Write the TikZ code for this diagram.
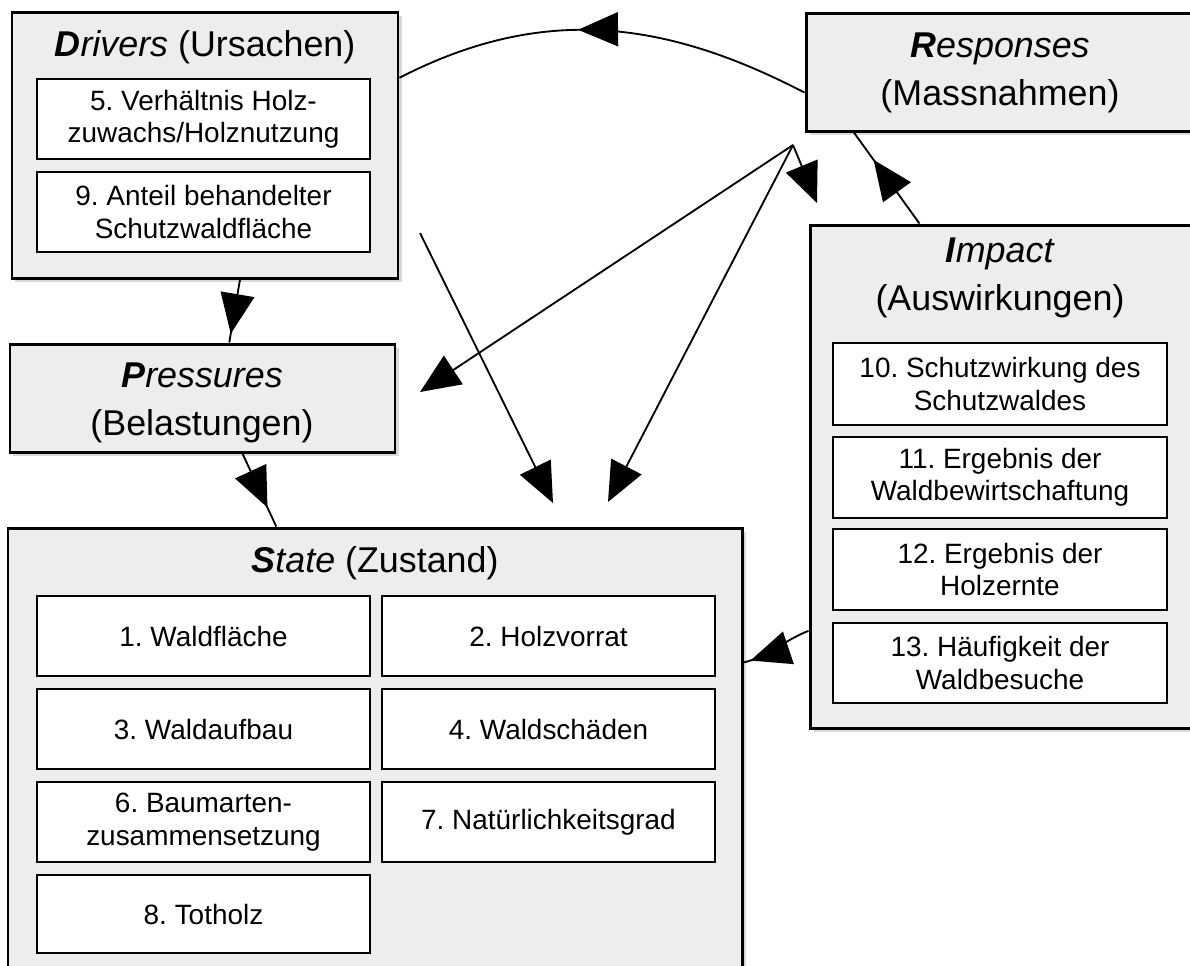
\documentclass[tikz,border=0pt]{standalone}
\usepackage{fontspec}
\setmainfont{Liberation Sans}
\usetikzlibrary{arrows.meta,decorations.markings,shadows,calc}
\definecolor{boxgray}{RGB}{237,237,237}
\newcommand\myheadfont{\fontsize{20.4}{27.2}\selectfont}
\newcommand\myitemfont{\fontsize{15.9}{18.4}\selectfont}
\newcommand\mybox[7]{\node[#1, minimum width={(#5-#3)*0.02cm}, minimum height={(#6-#4)*0.02cm}] (#2) at ({(#3+#5)/2},{(#4+#6)/2}) {#7};}
\tikzset{
 outerbox/.style={draw=black, line width=1.7pt, fill=boxgray, drop shadow={shadow xshift=0.07cm, shadow yshift=-0.07cm, opacity=0.3}, inner sep=0pt, align=center, font=\myheadfont},
 innerbox/.style={draw=black, line width=1.6pt, fill=white, inner sep=0pt, align=center, font=\myitemfont},
 heading/.style={inner sep=0pt, align=center, font=\myheadfont},
 conn/.style={draw=black, line width=1.05pt},
 tipend/.style={-{Triangle[length=0.8cm,width=0.68cm]}},
 tipmid/.style={decoration={markings, mark=at position #1 with {\arrow{Triangle[length=0.8cm,width=0.68cm]}}}, postaction={decorate}},
}
\begin{document}
\frenchspacing
\begin{tikzpicture}[x=0.02cm,y=-0.02cm]
\useasboundingbox (0,0) rectangle (1190,965);
\clip (0,0) rectangle (1190,965);
% Drivers
\mybox{outerbox}{drv}{12}{12}{398}{278}{}
\node[heading] (drvT) at (205,47) {\textbf{\textit{D}}\textit{rivers} (Ursachen)};
\mybox{innerbox}{d5}{37}{79}{370}{159}{5. Verhältnis Holz-\\zuwachs/Holznutzung}
\mybox{innerbox}{d9}{37}{172}{370}{252}{9. Anteil behandelter\\Schutzwaldfläche}
% Responses
\mybox{outerbox}{resp}{806}{13}{1195}{131}{}
\node[heading] (respT) at (1000,73) {\textbf{\textit{R}}\textit{esponses}\\(Massnahmen)};
% Pressures
\mybox{outerbox}{press}{10}{344}{395}{452}{}
\node[heading] (pressT) at (202,403) {\textbf{\textit{P}}\textit{ressures}\\(Belastungen)};
% Impact
\mybox{outerbox}{imp}{810}{225}{1195}{728}{}
\node[heading] (impT) at (1000,278) {\textbf{\textit{I}}\textit{mpact}\\(Auswirkungen)};
\mybox{innerbox}{i10}{833}{343}{1167}{425}{10. Schutzwirkung des\\Schutzwaldes}
\mybox{innerbox}{i11}{833}{437}{1167}{518}{11. Ergebnis der\\Waldbewirtschaftung}
\mybox{innerbox}{i12}{833}{529}{1167}{610}{12. Ergebnis der\\Holzernte}
\mybox{innerbox}{i13}{833}{623}{1167}{703}{13. Häufigkeit der\\Waldbesuche}
% State
\mybox{outerbox}{st}{8}{528}{742}{975}{}
\node[heading] (stT) at (375,563) {\textbf{\textit{S}}\textit{tate} (Zustand)};
\mybox{innerbox}{s1}{37}{596}{370}{676}{1. Waldfläche}
\mybox{innerbox}{s2}{382}{596}{715}{676}{2. Holzvorrat}
\mybox{innerbox}{s3}{37}{689}{370}{769}{3. Waldaufbau}
\mybox{innerbox}{s4}{382}{689}{715}{769}{4. Waldschäden}
\mybox{innerbox}{s6}{37}{782}{370}{862}{6. Baumarten-\\zusammensetzung}
\mybox{innerbox}{s7}{382}{782}{715}{862}{7. Natürlichkeitsgrad}
\mybox{innerbox}{s8}{37}{875}{370}{953}{8. Totholz}
% connectors
\draw[conn, tipmid=0.56] ($(resp.north west)!0.67!(resp.south west)$) .. controls (663,19) and (541,5) .. ($(drv.north east)!0.25!(drv.south east)$);
\draw[conn, tipmid=0.86] ($(drv.south west)!0.59!(drv.south east)$) -- ($(press.north west)!0.569!(press.north east)$);
\draw[conn, tipmid=0.74] ($(press.south west)!0.603!(press.south east)$) -- ($(st.north west)!0.366!(st.north east)$);
\draw[conn, tipmid=0.7] ($(imp.north west)!0.286!(imp.north east)$) -- ($(resp.south west)!0.126!(resp.south east)$);
\draw[conn, tipmid=0.9] ($(imp.north west)!0.805!(imp.south west)$) .. controls (785,640) and (765,658) .. ($(st.north east)!0.302!(st.south east)$);
\coordinate (hub) at (793,145);
\coordinate (pT) at (420,392);
\coordinate (sTa) at (608,502);
\coordinate (iT) at (817,203);
\coordinate (fs) at (420,233);
\coordinate (fe) at (553,503);
\draw[conn, tipend] (hub) -- (pT);
\draw[conn, tipend] (hub) -- (sTa);
\draw[conn, tipend] (hub) -- (iT);
\draw[conn, tipend] (fs) -- (fe);
\end{tikzpicture}
\end{document}
